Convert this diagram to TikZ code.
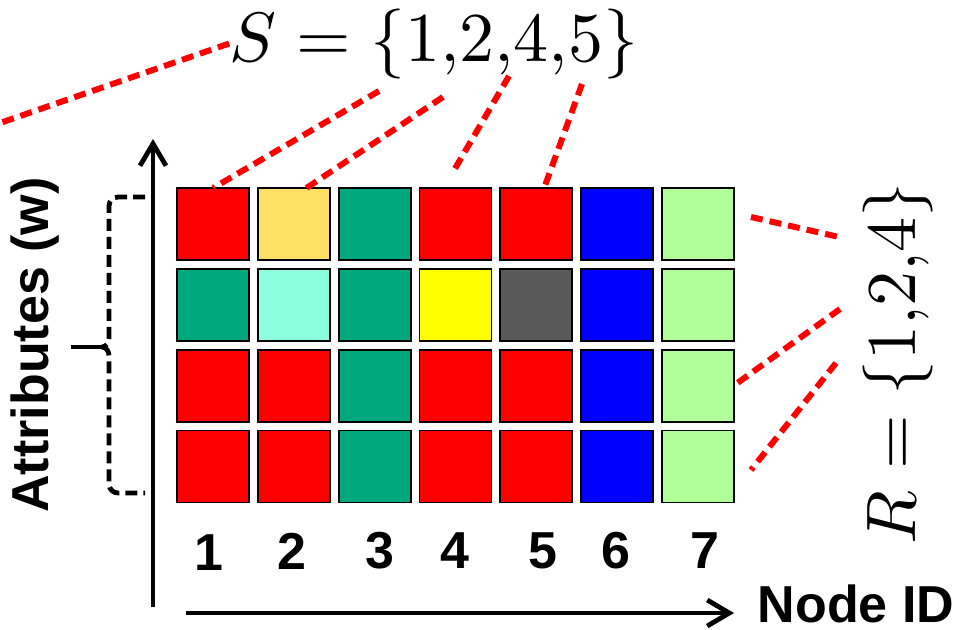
\documentclass[tikz,border=0pt]{standalone}
\usepackage{fontspec}
\usepackage{unicode-math}
\setsansfont{Liberation Sans}
\usepackage{tikz}
\usetikzlibrary{positioning,arrows.meta,calc}
\definecolor{cred}{HTML}{FF0000}
\definecolor{cteal}{HTML}{00A87D}
\definecolor{cpale}{HTML}{FFE066}
\definecolor{caqua}{HTML}{8CFFDF}
\definecolor{cyell}{HTML}{FFFF00}
\definecolor{cgray}{HTML}{595959}
\definecolor{cblue}{HTML}{0000FF}
\definecolor{clime}{HTML}{B0FF98}
\tikzset{
  cell/.style    = {rectangle, draw=black, line width=0.9pt, minimum size=36pt,
                    inner sep=0pt, outer sep=0pt},
  lnk/.style     = {draw=cred, line width=3pt, dash pattern=on 6pt off 3.5pt},
  axis/.style    = {-{Straight Barb[length=11pt,width=13pt]}, line width=2.4pt, draw=black},
  bracket/.style = {draw=black, line width=2.4pt, dash pattern=on 6pt off 3pt},
  idlbl/.style   = {font=\sffamily\bfseries\fontsize{26}{30}\selectfont, inner sep=0pt},
  setlbl/.style  = {font=\fontsize{35}{40}\selectfont, inner sep=0pt},
}
\begin{document}
\begin{tikzpicture}[x=0.5pt, y=-0.5pt, node distance=4.4pt]
  \useasboundingbox (0,0) rectangle (959,629);

  % row 1
  \node[cell, fill=cred, anchor=north west] (c11) at (177,188) {};
  \node[cell, fill=cpale, right=of c11] (c12) {};
  \node[cell, fill=cteal, right=of c12] (c13) {};
  \node[cell, fill=cred, right=of c13] (c14) {};
  \node[cell, fill=cred, right=of c14] (c15) {};
  \node[cell, fill=cblue, right=of c15] (c16) {};
  \node[cell, fill=clime, right=of c16] (c17) {};

  % row 2
  \node[cell, fill=cteal, below=of c11] (c21) {};
  \node[cell, fill=caqua, right=of c21] (c22) {};
  \node[cell, fill=cteal, right=of c22] (c23) {};
  \node[cell, fill=cyell, right=of c23] (c24) {};
  \node[cell, fill=cgray, right=of c24] (c25) {};
  \node[cell, fill=cblue, right=of c25] (c26) {};
  \node[cell, fill=clime, right=of c26] (c27) {};

  % row 3
  \node[cell, fill=cred, below=of c21] (c31) {};
  \node[cell, fill=cred, right=of c31] (c32) {};
  \node[cell, fill=cteal, right=of c32] (c33) {};
  \node[cell, fill=cred, right=of c33] (c34) {};
  \node[cell, fill=cred, right=of c34] (c35) {};
  \node[cell, fill=cblue, right=of c35] (c36) {};
  \node[cell, fill=clime, right=of c36] (c37) {};

  % row 4
  \node[cell, fill=cred, below=of c31] (c41) {};
  \node[cell, fill=cred, right=of c41] (c42) {};
  \node[cell, fill=cteal, right=of c42] (c43) {};
  \node[cell, fill=cred, right=of c43] (c44) {};
  \node[cell, fill=cred, right=of c44] (c45) {};
  \node[cell, fill=cblue, right=of c45] (c46) {};
  \node[cell, fill=clime, right=of c46] (c47) {};

  % node ids
  \node[idlbl] (n1) at (209,553) {1};
  \node[idlbl] (n2) at (292,551) {2};
  \node[idlbl] (n3) at (380,551) {3};
  \node[idlbl] (n4) at (455,551) {4};
  \node[idlbl] (n5) at (543,551) {5};
  \node[idlbl] (n6) at (616,551) {6};
  \node[idlbl] (n7) at (705,551) {7};

  % axes and their labels
  \coordinate (org) at (153,607);
  \coordinate (ytop) at (153,139);
  \coordinate (xstart) at (186,613);
  \coordinate (xend) at (734,613);
  \draw[axis] (org) -- (ytop);
  \draw[axis] (xstart) -- (xend);
  \node[idlbl] (nid) at (856,604) {Node ID};
  \node[idlbl, rotate=90] (attr) at (35,345) {Attributes (w)};

  % bracket over the rows
  \draw[bracket] (145,197) -- (118,197) to[out=180,in=90] (109,206) -- (109,338)
    to[out=-90,in=0] (102,347);
  \draw[bracket] (102,347) to[out=0,in=90] (109,356) -- (109,484)
    to[out=-90,in=180] (118,493) -- (145,493);
  \draw[line width=2.4pt] (71,347) -- (102,347);

  % sets
  \node[setlbl, anchor=base] (sset) at (434,61) {$S=\{1{,}2{,}4{,}5\}$};
  \node[setlbl, rotate=90, anchor=base] (rset) at (915,363) {$R=\{1{,}2{,}4\}$};

  % dashed links
  \coordinate (sfar) at (0,123);
  \coordinate (s1) at (379,91);
  \coordinate (s2) at (443,97);
  \coordinate (s4) at (509,76);
  \coordinate (s4end) at (453,172);
  \coordinate (s5) at (582,84);
  \coordinate (r1a) at (751,217);
  \coordinate (r1b) at (839,237);
  \coordinate (r2) at (840,309);
  \coordinate (r4a) at (836,363);
  \coordinate (r4b) at (751,470);
  \draw[lnk] (sset.west) -- (sfar);
  \draw[lnk] (s1) -- (c11.north);
  \draw[lnk] (s2) -- ($(c12.north)!0.35!(c12.north east)$);
  \draw[lnk] (s4) -- (s4end);
  \draw[lnk] (s5) -- ($(c15.north)!0.22!(c15.north east)$);
  \draw[lnk] (r1a) -- (r1b);
  \draw[lnk] (r2) -- (c37.east);
  \draw[lnk] (r4a) -- (r4b);
\end{tikzpicture}
\end{document}
